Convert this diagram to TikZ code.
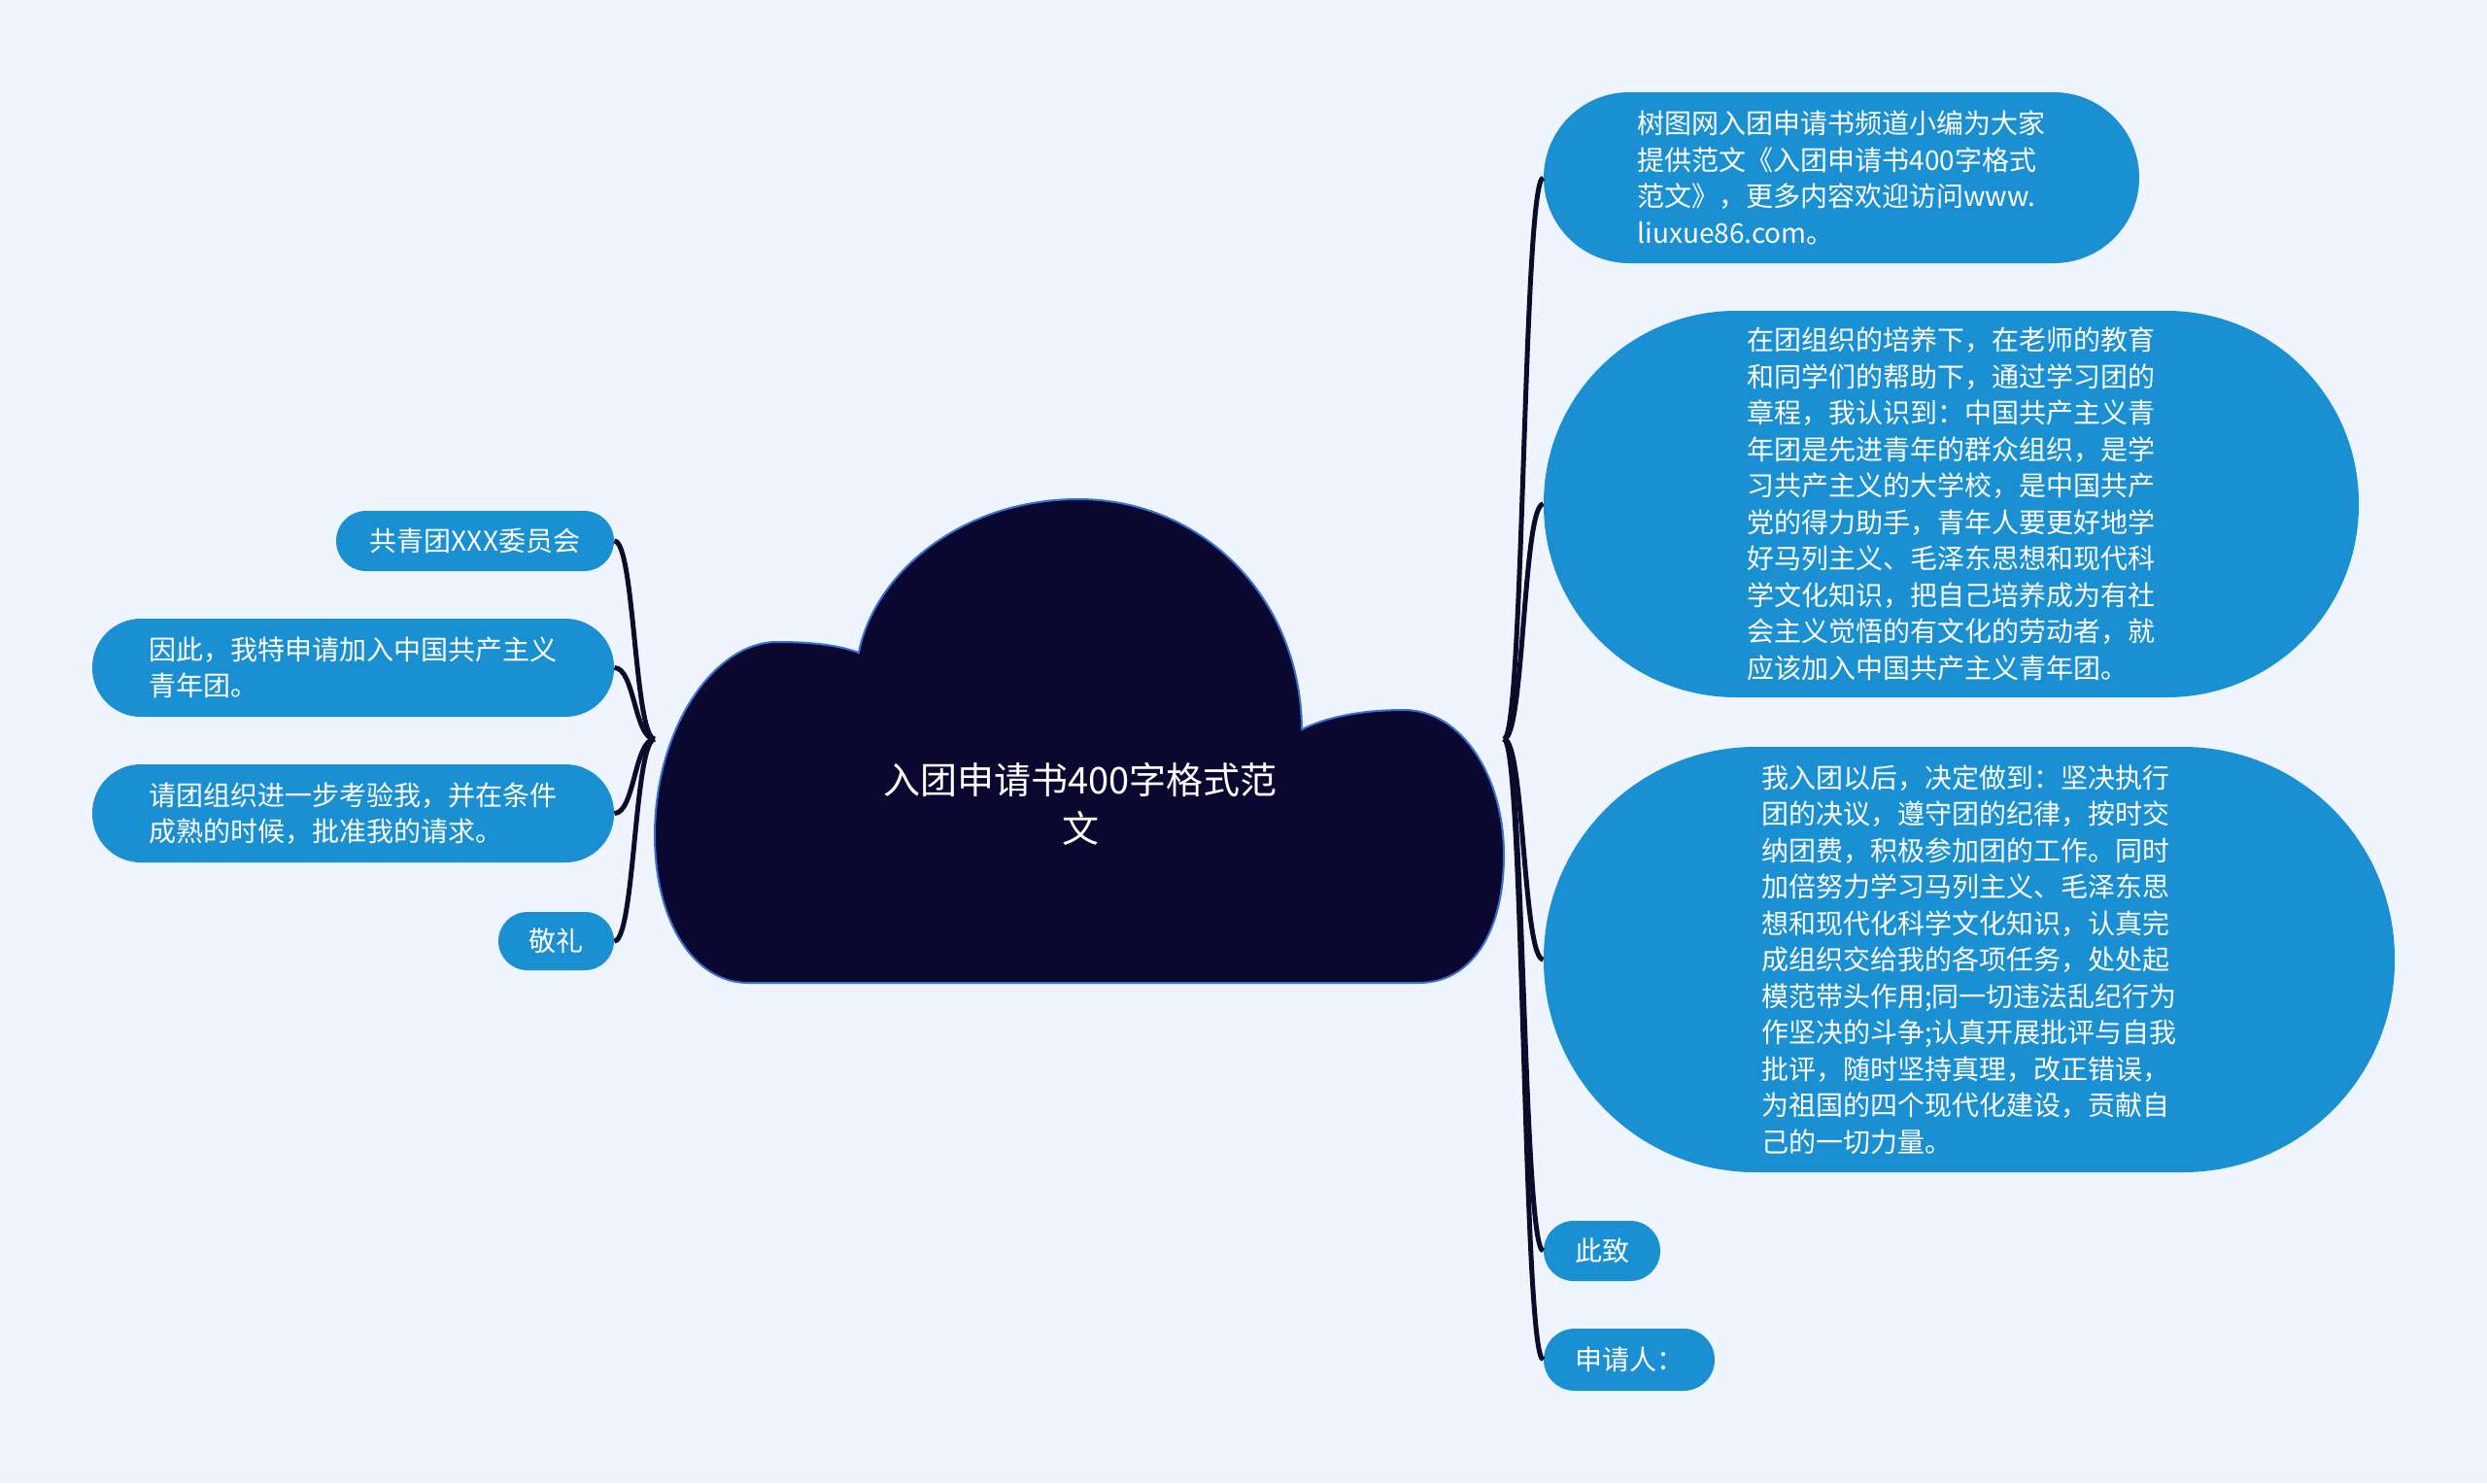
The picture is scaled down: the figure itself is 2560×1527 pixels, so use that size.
\documentclass[tikz,border=0pt]{standalone}
\usepackage{fontspec}
\newfontfamily\cjk{Noto Sans CJK SC}
\usetikzlibrary{positioning}
\definecolor{bgblue}{HTML}{EEF5FE}
\definecolor{nodeblue}{HTML}{1A90D2}
\definecolor{cloudnavy}{HTML}{0A0731}
\definecolor{cloudedge}{HTML}{3D6FCF}
\definecolor{branchink}{HTML}{0C0B2A}
\tikzset{
  topic/.style={fill=nodeblue, text=white, inner sep=0pt, align=left,
    font=\cjk\fontsize{14}{18.75}\selectfont},
  branch/.style={draw=branchink, line width=2.5pt},
}

\begin{document}
\begin{tikzpicture}[x=0.5pt, y=-0.5pt]
    % Background
    \fill[bgblue] (0,0) rectangle (2560,1527);
    \useasboundingbox (0,0) rectangle (2560,1527);

    % Cloud
    \filldraw[fill=cloudnavy, draw=cloudedge, line width=1pt]
        (770,1012) .. controls (715,1012) and (674,950) .. (674,860)
        .. controls (674,750) and (735,661) .. (800,661)
        .. controls (835,661) and (862,664) .. (884,672)
        .. controls (900,590) and (990,514) .. (1110,514)
        .. controls (1237,514) and (1339,615) .. (1340,751)
        .. controls (1370,736) and (1410,731) .. (1445,731)
        .. controls (1505,731) and (1548,800) .. (1548,880)
        .. controls (1548,960) and (1515,1012) .. (1460,1012)
        -- cycle;
    \node[text=white, align=center, font=\cjk\fontsize{19}{25.3}\selectfont] (root) at (1112,828)
        {入团申请书400字格式范\\文};
    \coordinate (rootW) at (674,761);
    \coordinate (rootE) at (1548,761);

    % Left side
    \node[topic, minimum width=143pt, minimum height=31pt, rounded corners=15.5pt] (org) at (489,557)
        {共青团XXX委员会};
    \node[topic, minimum width=268.5pt, minimum height=50.5pt, rounded corners=25pt] (apply) at (363.5,687.5)
        {因此，我特申请加入中国共产主义\\青年团。};
    \node[topic, minimum width=268.5pt, minimum height=50.5pt, rounded corners=25pt] (request) at (363.5,837.5)
        {请团组织进一步考验我，并在条件\\成熟的时候，批准我的请求。};
    \node[topic, minimum width=59.5pt, minimum height=30pt, rounded corners=15pt] (salute) at (572.5,969)
        {敬礼};

    % Right side
    \node[topic, minimum width=306.5pt, minimum height=88pt, rounded corners=44pt] (intro) at (1895.5,183)
        {树图网入团申请书频道小编为大家\\提供范文《入团申请书400字格式\\范文》，更多内容欢迎访问www.\\liuxue86.com。};
    \node[topic, minimum width=419.5pt, minimum height=199pt, rounded corners=99pt] (aware) at (2008.5,519)
        {在团组织的培养下，在老师的教育\\和同学们的帮助下，通过学习团的\\章程，我认识到：中国共产主义青\\年团是先进青年的群众组织，是学\\习共产主义的大学校，是中国共产\\党的得力助手，青年人要更好地学\\好马列主义、毛泽东思想和现代科\\学文化知识，把自己培养成为有社\\会主义觉悟的有文化的劳动者，就\\应该加入中国共产主义青年团。};
    \node[topic, minimum width=438pt, minimum height=219pt, rounded corners=109pt] (pledge) at (2027,988)
        {我入团以后，决定做到：坚决执行\\团的决议，遵守团的纪律，按时交\\纳团费，积极参加团的工作。同时\\加倍努力学习马列主义、毛泽东思\\想和现代化科学文化知识，认真完\\成组织交给我的各项任务，处处起\\模范带头作用;同一切违法乱纪行为\\作坚决的斗争;认真开展批评与自我\\批评，随时坚持真理，改正错误，\\为祖国的四个现代化建设，贡献自\\己的一切力量。};
    \node[topic, minimum width=60pt, minimum height=31pt, rounded corners=15.5pt] (regards) at (1649,1288)
        {此致};
    \node[topic, minimum width=88pt, minimum height=32pt, rounded corners=16pt] (signer) at (1677,1400)
        {申请人：};

    % Branches
    \foreach \leaf in {org, apply, request, salute}
        \draw[branch] (\leaf.east) .. controls +(21,0) and +(-21,0) .. (rootW);
    \foreach \leaf in {intro, aware, pledge, regards, signer}
        \draw[branch] (rootE) .. controls +(21,0) and +(-21,0) .. (\leaf.west);
\end{tikzpicture}
\end{document}
